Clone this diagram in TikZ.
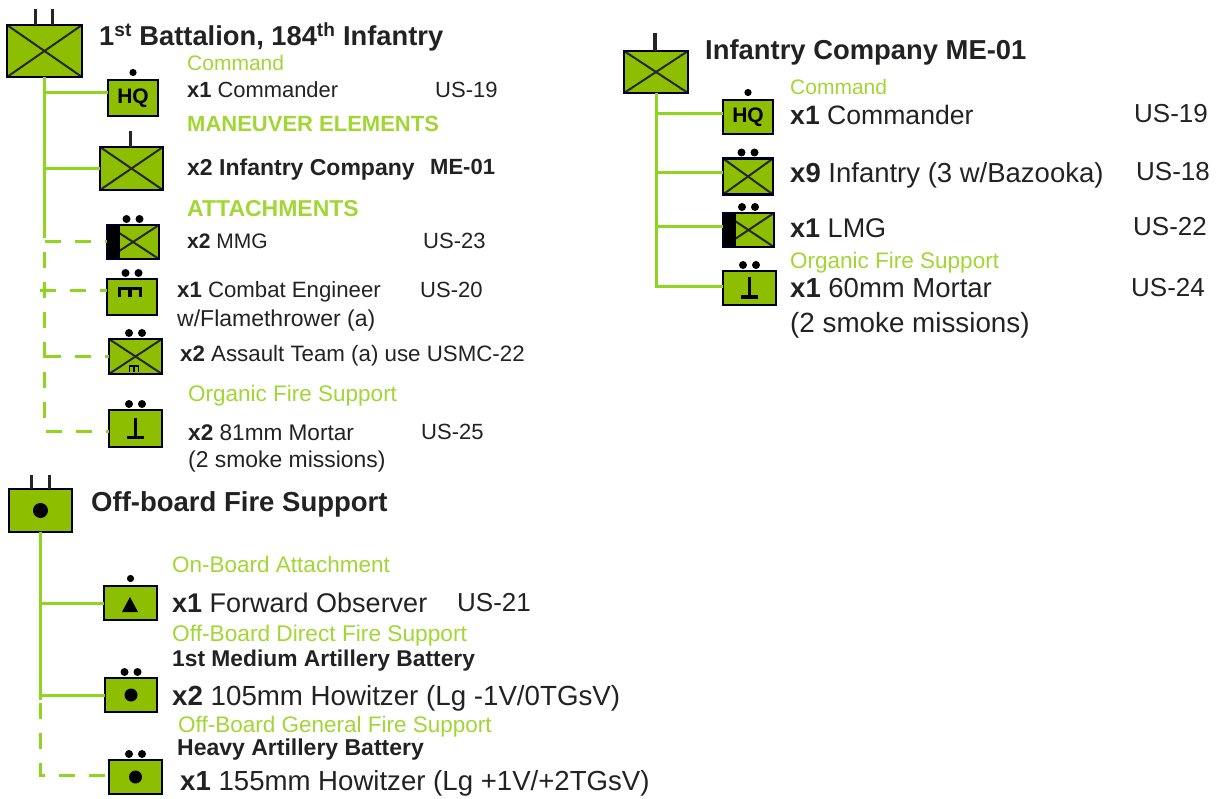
\documentclass[tikz,border=0pt]{standalone}
\usepackage{fontspec}
\setmainfont{Liberation Sans}
\usepackage{xcolor}
\definecolor{unitfill}{HTML}{8DBE00}
\definecolor{linkgreen}{HTML}{8FD41E}
\definecolor{hdggreen}{HTML}{A2D634}
\definecolor{txtdark}{HTML}{222222}
% symbolo de ingenieros: barra con tres patas
\newcommand{\engmark}[4]{%
  \draw[line width=#4, black] ($(#1)+(-#2,#3)$) -- ($(#1)+(-#2,-#3)$) -- ($(#1)+(#2,-#3)$) -- ($(#1)+(#2,#3)$);
  \draw[line width=#4, black] ($(#1)+(0,#3)$) -- ($(#1)+(0,-#3)$);}
\usetikzlibrary{calc}
\begin{document}
\begin{tikzpicture}[x=1pt, y=-1pt,
    unitbox/.style 2 args={draw=black!85!blue, line width=2.6pt, fill=unitfill, rectangle,
      inner sep=0pt, outer sep=0pt, minimum width=#1pt, minimum height=#2pt},
    xmark/.style={path picture={
      \draw[line width=2pt, black!85] (path picture bounding box.north west) -- (path picture bounding box.south east);
      \draw[line width=2pt, black!85] (path picture bounding box.south west) -- (path picture bounding box.north east);}},
    xstrip/.style={path picture={
      \draw[line width=2pt, black!85] (path picture bounding box.north west) -- (path picture bounding box.south east);
      \draw[line width=2pt, black!85] (path picture bounding box.south west) -- (path picture bounding box.north east);
      \fill[black] (path picture bounding box.north west) rectangle ([xshift=13pt]path picture bounding box.south west);}},
    link/.style={draw=linkgreen, line width=3pt},
    dashlink/.style={draw=linkgreen, line width=3pt, dash pattern=on 16pt off 14pt},
    barmark/.style={line width=3.4pt, black!85},
    txt/.style={anchor=west, inner sep=0pt, text height=.72*#1pt, text depth=0pt},
    hdg/.style={txt=#1, text=hdggreen, font=\fontsize{#1}{#1}\selectfont},
    hdgb/.style={txt=#1, text=hdggreen, font=\fontsize{#1}{#1}\selectfont\bfseries},
    lab/.style={txt=#1, text=txtdark, font=\fontsize{#1}{#1}\selectfont},
    ttl/.style={txt=#1, text=txtdark, font=\fontsize{#1}{#1}\selectfont\bfseries},
  ]
  \useasboundingbox (0,0) rectangle (1220,799);
  % Batallon
  \node[unitbox={75}{52}, xmark] (batt) at (44.5,51) {};
  \node[unitbox={50}{36}] (hqa) at (133,98) {};
  \node[unitbox={63}{43}, xmark] (coya) at (131.5,168.5) {};
  \node[unitbox={52}{34}, xstrip] (mmga) at (133,242) {};
  \node[unitbox={50}{36}] (enga) at (132,297) {};
  \node[unitbox={53}{35}, xmark] (asla) at (135.5,356.5) {};
  \node[unitbox={53}{37}] (mora) at (135.5,428.5) {};
  % Apoyo de fuego
  \node[unitbox={63}{43}] (fsb) at (40.5,510.5) {};
  \node[unitbox={53}{34}] (foa) at (130.5,603) {};
  \node[unitbox={52}{34}] (howa) at (131,695) {};
  \node[unitbox={53}{34}] (howb) at (135.5,777) {};
  % Compania
  \node[unitbox={64}{42}, xmark] (coyb) at (656,72) {};
  \node[unitbox={50}{34}] (hqb) at (748,117) {};
  \node[unitbox={50}{36}, xmark] (infb) at (748,176.5) {};
  \node[unitbox={51}{34}, xstrip] (lmgb) at (748.5,230) {};
  \node[unitbox={53}{34}] (morb) at (749.5,288) {};
  % Enlaces
  \coordinate (battbrk) at (44.5,238);
  \coordinate (battdash) at (44.5,252);
  \coordinate (fsbbrk) at (40.5,700);
  \coordinate (fsbdash) at (40.5,703);
  \draw[link] (batt.south) -- (battbrk);
  \draw[dashlink] (battdash) -- (battdash |- 0,431) -- ([yshift=-2.5pt]mora.west);
  \draw[link] (batt.south |- 0,93) -- ([yshift=5pt]hqa.west);
  \draw[link] (batt.south |- coya.west) -- (coya.west);
  \draw[dashlink] (batt.south |- mmga.west) -- (mmga.west);
  \draw[dashlink] ([xshift=-5pt]batt.south |- 0,291) -- ([yshift=6pt]enga.west);
  \draw[link] (fsb.south) -- (fsbbrk);
  \draw[link] (fsb.south |- foa.west) -- (foa.west);
  \draw[link] (fsb.south |- howa.west) -- (howa.west);
  \draw[dashlink] (fsbdash) -- (fsbdash |- 0,775) -- ([yshift=2pt]howb.west);
  \draw[dashlink] (batt.south |- asla.west) -- (asla.west);
  \draw[link] (coyb.south) -- (coyb.south |- 0,287) -- ([yshift=1pt]morb.west);
  \draw[link] (coyb.south |- 0,114) -- ([yshift=3pt]hqb.west);
  \draw[link] (coyb.south |- 0,173) -- ([yshift=3.5pt]infb.west);
  \draw[link] (coyb.south |- 0,227) -- ([yshift=3pt]lmgb.west);
  % Marcas de escalon
  \draw[barmark] ([xshift=-9pt]batt.north) -- ++(0,-16);
  \draw[barmark] ([xshift=8pt]batt.north) -- ++(0,-16);
  \draw[barmark] ([xshift=-9pt]fsb.north) -- ++(0,-14);
  \draw[barmark] ([xshift=9pt]fsb.north) -- ++(0,-14);
  \draw[barmark] ([xshift=-1pt]coya.north) -- ++(0,-16);
  \draw[barmark] ([xshift=-1pt]coyb.north) -- ++(0,-18);
  \foreach \unit in {hqa,foa,hqb} {
    \fill[black] ([yshift=7.5pt]\unit.north) circle[radius=3.6pt];
  }
  \foreach \unit in {mmga,enga,asla,mora,howa,howb,infb,lmgb,morb} {
    \fill[black] ([shift={(-6.5pt,6pt)}]\unit.north) circle[radius=4pt];
    \fill[black] ([shift={(6.5pt,6pt)}]\unit.north) circle[radius=4pt];
  }
  % Simbolos
  \node[font=\fontsize{21}{21}\selectfont\bfseries, text=black, inner sep=0pt] (hqatxt) at (hqa) {HQ};
  \node[font=\fontsize{21}{21}\selectfont\bfseries, text=black, inner sep=0pt] (hqbtxt) at (hqb) {HQ};
  \engmark{130,293}{10.5}{4.5}{3.4pt}
  \engmark{134,369}{4.5}{3}{1.8pt}
  \foreach \unit in {mora,morb} {
    \draw[line width=3.2pt, black] ([yshift=11pt]\unit.center) -- ([yshift=-9pt]\unit.center);
    \draw[line width=3.2pt, black] ([shift={(-8.5pt,-9pt)}]\unit.center) -- ([shift={(8.5pt,-9pt)}]\unit.center);
  }
  \fill[black] (fsb) circle[radius=7.5pt];
  \fill[black] (howa) circle[radius=6.5pt];
  \fill[black] (howb) circle[radius=6.5pt];
  \fill[black] (130,597) -- (138,612) -- (122,612) -- cycle;
  % Textos, batallon
  \node[ttl=27.3] (batttxt) at (99,36) {1\textsuperscript{st} Battalion, 184\textsuperscript{th} Infantry};
  \node[hdg=21] (cmdtxt) at (187,63) {Command};
  \node[lab=21.9] (hqalab) at (187,90) {\textbf{x1} Commander};
  \node[lab=22] (hqacode) at (435,90) {US-19};
  \node[hdgb=22] (mantxt) at (187,124) {MANEUVER ELEMENTS};
  \node[ttl=23] (coyalab) at (187,167) {x2 Infantry Company};
  \node[ttl=22] (coyacode) at (430,167) {ME-01};
  \node[hdgb=23] (atttxt) at (187,208) {ATTACHMENTS};
  \node[lab=21] (mmgalab) at (187,241) {\textbf{x2} MMG};
  \node[lab=22] (mmgacode) at (423,241) {US-23};
  \node[lab=22.2] (engalab) at (177,290) {\textbf{x1} Combat Engineer};
  \node[lab=22] (engacode) at (420,290) {US-20};
  \node[lab=23] (engbtxt) at (177,318) {w/Flamethrower (a)};
  \node[lab=22.3] (aslalab) at (180,353) {\textbf{x2} Assault Team (a) use USMC-22};
  \node[hdg=22.5] (orgatxt) at (188,393) {Organic Fire Support};
  \node[lab=22.6] (moralab) at (188,432) {\textbf{x2} 81mm Mortar};
  \node[lab=22] (moracode) at (421,432) {US-25};
  \node[lab=22.9] (morbtxt) at (188,459) {(2 smoke missions)};
  % Textos, apoyo de fuego
  \node[ttl=27.5] (fsbtxt) at (91,502) {Off-board Fire Support};
  \node[hdg=22.5] (ontxt) at (172,564) {On-Board Attachment};
  \node[lab=27] (foalab) at (172,603) {\textbf{x1} Forward Observer};
  \node[lab=26] (foacode) at (457,602) {US-21};
  \node[hdg=22.7] (dirtxt) at (172,633) {Off-Board Direct Fire Support};
  \node[ttl=22.8] (medtxt) at (172,658) {1st Medium Artillery Battery};
  \node[lab=27.7] (howalab) at (172,696) {\textbf{x2} 105mm Howitzer (Lg -1V/0TGsV)};
  \node[hdg=22.5] (gentxt) at (178,724) {Off-Board General Fire Support};
  \node[ttl=23] (hvytxt) at (177,747) {Heavy Artillery Battery};
  \node[lab=27.6] (howblab) at (180,781) {\textbf{x1} 155mm Howitzer (Lg +1V/+2TGsV)};
  % Textos, compania
  \node[ttl=27.4] (coybtxt) at (705,50) {Infantry Company ME-01};
  \node[hdg=21] (cmdbtxt) at (790,87) {Command};
  \node[lab=26.6] (hqblab) at (790,115) {\textbf{x1} Commander};
  \node[lab=26] (hqbcode) at (1134,113) {US-19};
  \node[lab=27.5] (infblab) at (790,173) {\textbf{x9} Infantry (3 w/Bazooka)};
  \node[lab=26] (infbcode) at (1136,171) {US-18};
  \node[lab=27] (lmgblab) at (790,228) {\textbf{x1} LMG};
  \node[lab=26] (lmgbcode) at (1133,226) {US-22};
  \node[hdg=22.5] (orgbtxt) at (790,260) {Organic Fire Support};
  \node[lab=27.5] (morblab) at (790,288) {\textbf{x1} 60mm Mortar};
  \node[lab=26] (morbcode) at (1131,287) {US-24};
  \node[lab=27.8] (morcaption) at (790,322) {(2 smoke missions)};
\end{tikzpicture}
\end{document}
